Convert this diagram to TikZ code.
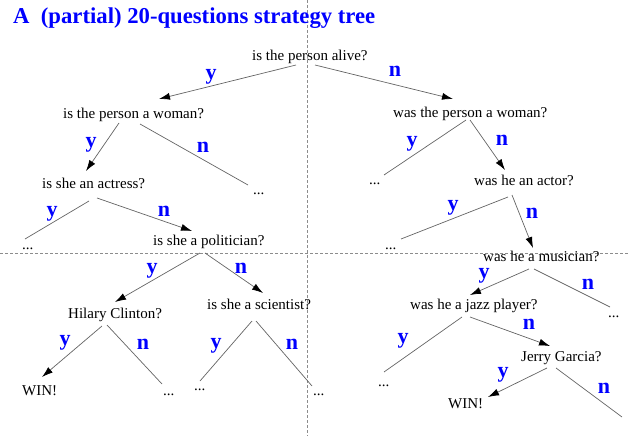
\documentclass[tikz,border=0pt]{standalone}
\usepackage{fontspec}
\setmainfont{Liberation Serif}
\usetikzlibrary{arrows.meta,calc}
\definecolor{pureblue}{RGB}{0,0,255}
\definecolor{edgegray}{RGB}{100,100,100}
\definecolor{gridgray}{RGB}{140,140,140}
\begin{document}
\begin{tikzpicture}[x=1pt,y=-1pt,
  txt/.style={font=\fontsize{15}{17}\selectfont, inner sep=0pt, anchor=base west},
  lab/.style={font=\fontsize{22}{24}\selectfont\bfseries, text=pureblue, inner sep=0pt},
  edge/.style={draw=edgegray, line width=0.7pt},
  arr/.style={edge, -{Latex[length=11pt,width=7pt,color=black]}},
  gridline/.style={draw=gridgray, line width=0.6pt, dash pattern=on 3pt off 2pt}]
\useasboundingbox (0,0) rectangle (629,436);
% dashed quadrant lines
\coordinate (vt) at (307,0); \coordinate (vb) at (307,436);
\coordinate (hl) at (0,253); \coordinate (hr) at (629,253);
\draw[gridline] (vt) -- (vb);
\draw[gridline] (hl) -- (hr);
% title
\node[anchor=base west, inner sep=0pt, text=pureblue, font=\fontsize{22.7}{25}\selectfont\bfseries] (title) at (13,24) {A\ \ (partial) 20-questions strategy tree};
% text nodes
\node[txt] (alive) at (252,61) {is the person alive?};
\node[txt] (woman) at (63,118) {is the person a woman?};
\node[txt] (wwoman) at (393,117) {was the person a woman?};
\node[txt] (actress) at (42,188) {is she an actress?};
\node[txt] (d1) at (253,194) {...};
\node[txt] (d2) at (369,184) {...};
\node[txt] (actor) at (474,185) {was he an actor?};
\node[txt] (d3) at (22,249) {...};
\node[txt] (politician) at (153,245) {is she a politician?};
\node[txt] (d4) at (385,249) {...};
\node[txt] (musician) at (483,261) {was he a musician?};
\node[txt] (hilary) at (68,318) {Hilary Clinton?};
\node[txt] (scientist) at (207,309) {is she a scientist?};
\node[txt] (jazz) at (410,309) {was he a jazz player?};
\node[txt] (d5) at (608,317) {...};
\node[txt] (win1) at (22,395) {WIN!};
\node[txt] (d6) at (163,395) {...};
\node[txt] (d7) at (194,390) {...};
\node[txt] (d8) at (313,395) {...};
\node[txt] (d9) at (378,386) {...};
\node[txt] (jerry) at (521,361) {Jerry Garcia?};
\node[txt] (win2) at (448,408) {WIN!};
\coordinate (jend) at (622,417);
% edges
\draw[arr] ($(alive.base west)+(44,4)$) -- ($(woman.base west)+(96,-19)$);
\draw[arr] ($(alive.base west)+(63,4)$) -- ($(wwoman.base west)+(60,-18)$);
\draw[arr] ($(woman.base west)+(56,5)$) -- ($(actress.base west)+(44,-17)$);
\draw[edge] ($(woman.base west)+(77,6)$) -- ($(d1.base west)+(-5,-9)$);
\draw[edge] ($(wwoman.base west)+(73,3)$) -- ($(d2.base west)+(15,-9)$);
\draw[arr] ($(wwoman.base west)+(77,3)$) -- ($(actor.base west)+(31,-15)$);
\draw[edge] ($(actress.base west)+(47,13)$) -- ($(d3.base west)+(3,-10)$);
\draw[arr] ($(actress.base west)+(55,10)$) -- ($(politician.base west)+(39,-14)$);
\draw[edge] ($(actor.base west)+(34,12)$) -- ($(d4.base west)+(16,-10)$);
\draw[arr] ($(actor.base west)+(38,10)$) -- ($(musician.base west)+(50,-13)$);
\draw[arr] ($(politician.base west)+(47,8)$) -- ($(hilary.base west)+(47,-16)$);
\draw[arr] ($(politician.base west)+(52,8)$) -- ($(scientist.base west)+(56,-16)$);
\draw[arr] ($(musician.base west)+(46,8)$) -- ($(jazz.base west)+(60,-14)$);
\draw[edge] ($(musician.base west)+(51,8)$) -- ($(d5.base west)+(2,-10)$);
\draw[arr] ($(hilary.base west)+(34,8)$) -- ($(win1.base west)+(20,-18)$);
\draw[edge] ($(hilary.base west)+(39,7)$) -- ($(d6.base west)+(-1,-11)$);
\draw[edge] ($(scientist.base west)+(45,12)$) -- ($(d7.base west)+(6,-9)$);
\draw[edge] ($(scientist.base west)+(49,12)$) -- ($(d8.base west)+(-1,-9)$);
\draw[edge] ($(jazz.base west)+(52,8)$) -- ($(d9.base west)+(6,-14)$);
\draw[arr] ($(jazz.base west)+(60,8)$) -- ($(jerry.base west)+(29,-15)$);
\draw[arr] ($(jerry.base west)+(26,7)$) -- ($(win2.base west)+(40,-11)$);
\draw[edge] ($(jerry.base west)+(35,7)$) -- (jend);
% labels
\node[lab] (l1) at (211,77) {y};
\node[lab] (l2) at (395,71) {n};
\node[lab] (l3) at (91,145) {y};
\node[lab] (l4) at (203,147) {n};
\node[lab] (l5) at (412,144) {y};
\node[lab] (l6) at (502,140) {n};
\node[lab] (l7) at (52,214) {y};
\node[lab] (l8) at (164,211) {n};
\node[lab] (l9) at (453,208) {y};
\node[lab] (l10) at (532,213) {n};
\node[lab] (l11) at (152,271) {y};
\node[lab] (l12) at (241,268) {n};
\node[lab] (l13) at (484,276) {y};
\node[lab] (l14) at (588,284) {n};
\node[lab] (l15) at (65,343) {y};
\node[lab] (l16) at (143,344) {n};
\node[lab] (l17) at (216,346) {y};
\node[lab] (l18) at (292,344) {n};
\node[lab] (l19) at (403,341) {y};
\node[lab] (l20) at (529,324) {n};
\node[lab] (l21) at (503,375) {y};
\node[lab] (l22) at (604,388) {n};
\end{tikzpicture}
\end{document}
